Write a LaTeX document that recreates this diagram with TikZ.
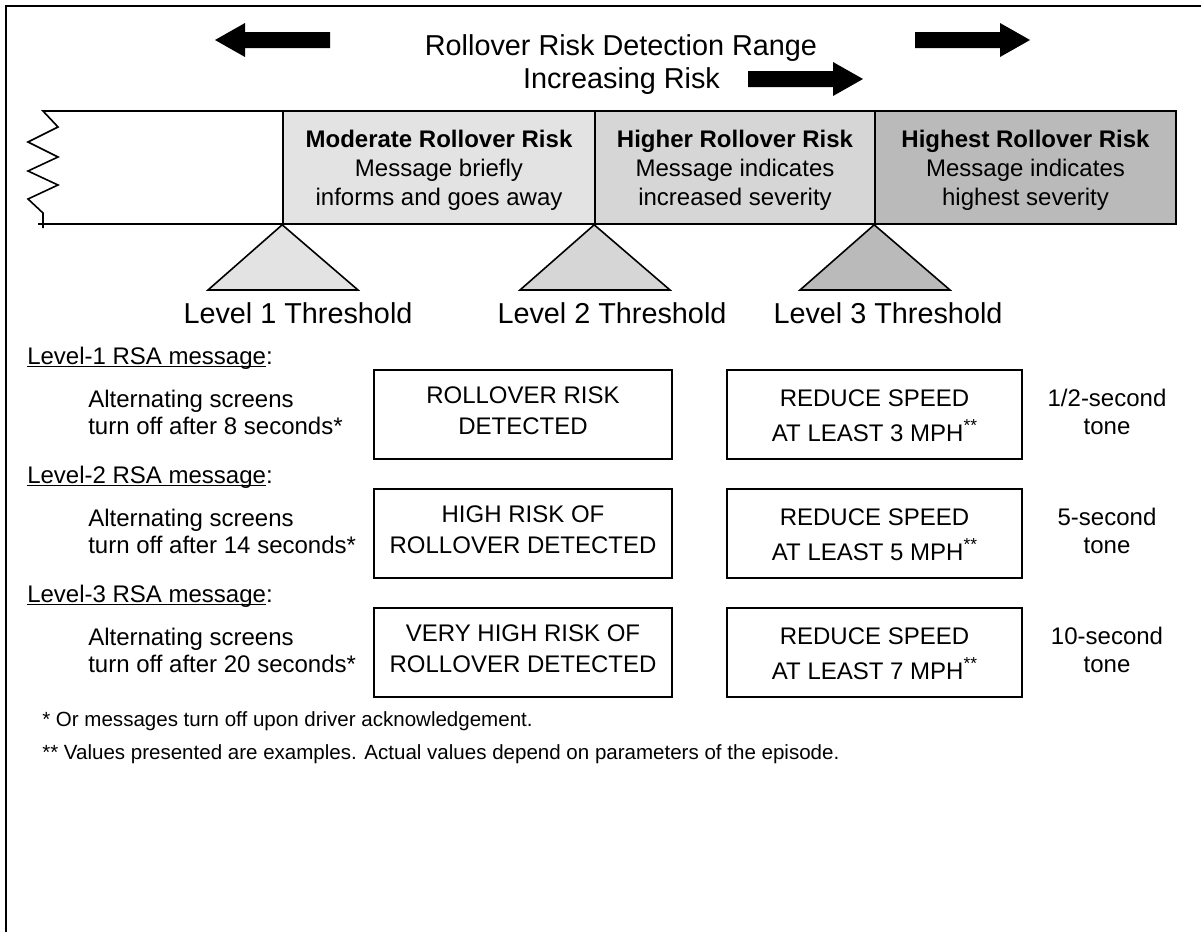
\documentclass[tikz,border=0pt]{standalone}
\usepackage{fontspec}
\setmainfont{Liberation Sans}
\usetikzlibrary{calc}

% underline set just under the baseline, crossing the descenders
\newsavebox\ulbox
\newcommand\ulword[1]{\sbox\ulbox{#1}\rlap{\rule[-2.3pt]{\wd\ulbox}{1.1pt}}\usebox\ulbox}
% raised double asterisk after the speed values
\newcommand\dstar{\raisebox{7.5pt}{\fontsize{13}{13}\selectfont **}}

\definecolor{modfill}{gray}{0.89}
\definecolor{higherfill}{gray}{0.84}
\definecolor{highestfill}{gray}{0.73}

\tikzset{
  txt/.style={anchor=base, inner sep=0, font=\fontsize{18}{18}\selectfont},
  boldtxt/.style={anchor=base, inner sep=0, font=\fontsize{18}{18}\selectfont\bfseries},
  bigtxt/.style={anchor=base, inner sep=0, font=\fontsize{21.6}{21.6}\selectfont},
  foot/.style={anchor=base west, inner sep=0, font=\fontsize{15.4}{15.4}\selectfont},
  bandline/.style={line width=1.2pt, line join=miter},
  zone/.style={draw, line width=1.2pt, inner sep=0, minimum height=84.75pt},
  tri/.style={draw, line width=1.2pt, line join=miter},
  msgbox/.style={draw, line width=1.5pt, inner sep=0, minimum height=66.75pt},
  leftbox/.style={msgbox, minimum width=223.5pt},
  rightbox/.style={msgbox, minimum width=221.25pt},
  fatarrow/.pic={\fill (0,-8) -- (85,-8) -- (85,-17) -- (115,0) -- (85,17) -- (85,8) -- (0,8) -- cycle;}
}

\begin{document}
\begin{tikzpicture}[x=0.75pt,y=-0.75pt]
\useasboundingbox (0,0) rectangle (1201,932);

% frame
\draw[line width=1.5pt] (6,932) -- (6,6) -- (1201,6);

% heading and direction arrows
\pic[xscale=-1] (arrowleft) at (330,40) {fatarrow};
\pic (arrowright) at (915,40) {fatarrow};
\node[bigtxt] (title) at (621,55) {Rollover Risk Detection Range};
\node[bigtxt] (increasing) at (621.5,88) {Increasing Risk};
\pic (arrowrisk) at (748,79) {fatarrow};

% risk band: open-ended low-risk part with a break line
\draw[bandline] (283,111) -- (43,111) -- (58,127) -- (28,142) -- (58,157) -- (28,171)
  -- (58,185) -- (28,199) -- (43,213) -- (43,228);
\draw[bandline] (38,224) -- (283,224);

\node[zone, fill=modfill, minimum width=234pt] (moderate) at (439,167.5) {};
\node[zone, fill=higherfill, minimum width=210pt] (higher) at (735,167.5) {};
\node[zone, fill=highestfill, minimum width=225.75pt] (highest) at (1025.5,167.5) {};

\node[boldtxt] (moderateA) at (439,147) {Moderate Rollover Risk};
\node[txt] (moderateB) at (439,176) {Message briefly};
\node[txt] (moderateC) at (439,205) {informs and goes away};

\node[boldtxt] (higherA) at (735,147) {Higher Rollover Risk};
\node[txt] (higherB) at (735,176) {Message indicates};
\node[txt] (higherC) at (735,205) {increased severity};

\node[boldtxt] (highestA) at (1025.5,147) {Highest Rollover Risk};
\node[txt] (highestB) at (1025.5,176) {Message indicates};
\node[txt] (highestC) at (1025.5,205) {highest severity};

% threshold markers
\filldraw[tri, fill=modfill] (moderate.south west) -- (358,290) -- (208,290) -- cycle;
\filldraw[tri, fill=higherfill] (higher.south west) -- (670,290) -- (520,290) -- cycle;
\filldraw[tri, fill=highestfill] (highest.south west) -- (950,290) -- (800,290) -- cycle;

\node[bigtxt] (thr1) at (298,323) {Level 1 Threshold};
\node[bigtxt] (thr2) at (612,323) {Level 2 Threshold};
\node[bigtxt] (thr3) at (888,323) {Level 3 Threshold};

% level 1 message
\node[txt, anchor=base west] (lvl1) at (27,364) {\ulword{Level-1 RSA message}:};
\node[txt, anchor=base west] (alt1a) at (88,407) {Alternating screens};
\node[txt, anchor=base west] (alt1b) at (88,434) {turn off after 8 seconds*};
\node[leftbox] (screenA1) at (523,414.5) {};
\node[txt] (screenA1a) at (523,403) {ROLLOVER RISK};
\node[txt] (screenA1b) at (523,434) {DETECTED};
\node[rightbox] (screenB1) at (874.5,414.5) {};
\node[txt] (screenB1a) at (874.5,406) {REDUCE SPEED};
\node[txt] (screenB1b) at (874.5,441) {AT LEAST 3 MPH\dstar};
\node[txt] (tone1a) at (1107,406) {1/2-second};
\node[txt] (tone1b) at (1107,434) {tone};

% level 2 message
\node[txt, anchor=base west] (lvl2) at (27,483) {\ulword{Level-2 RSA message}:};
\node[txt, anchor=base west] (alt2a) at (88,526) {Alternating screens};
\node[txt, anchor=base west] (alt2b) at (88,553) {turn off after 14 seconds*};
\node[leftbox] (screenA2) at (523,533.5) {};
\node[txt] (screenA2a) at (523,522) {HIGH RISK OF};
\node[txt] (screenA2b) at (523,553) {ROLLOVER DETECTED};
\node[rightbox] (screenB2) at (874.5,533.5) {};
\node[txt] (screenB2a) at (874.5,525) {REDUCE SPEED};
\node[txt] (screenB2b) at (874.5,560) {AT LEAST 5 MPH\dstar};
\node[txt] (tone2a) at (1107,525) {5-second};
\node[txt] (tone2b) at (1107,553) {tone};

% level 3 message
\node[txt, anchor=base west] (lvl3) at (27,602) {\ulword{Level-3 RSA message}:};
\node[txt, anchor=base west] (alt3a) at (88,645) {Alternating screens};
\node[txt, anchor=base west] (alt3b) at (88,672) {turn off after 20 seconds*};
\node[leftbox] (screenA3) at (523,652.5) {};
\node[txt] (screenA3a) at (523,641) {VERY HIGH RISK OF};
\node[txt] (screenA3b) at (523,672) {ROLLOVER DETECTED};
\node[rightbox] (screenB3) at (874.5,652.5) {};
\node[txt] (screenB3a) at (874.5,644) {REDUCE SPEED};
\node[txt] (screenB3b) at (874.5,679) {AT LEAST 7 MPH\dstar};
\node[txt] (tone3a) at (1107,644) {10-second};
\node[txt] (tone3b) at (1107,672) {tone};

% notes
\node[foot] (note1) at (42,726) {* Or messages turn off upon driver acknowledgement.};
\node[foot] (note2) at (42,759) {** Values presented are examples. Actual values depend on parameters of the episode.};
\end{tikzpicture}
\end{document}
